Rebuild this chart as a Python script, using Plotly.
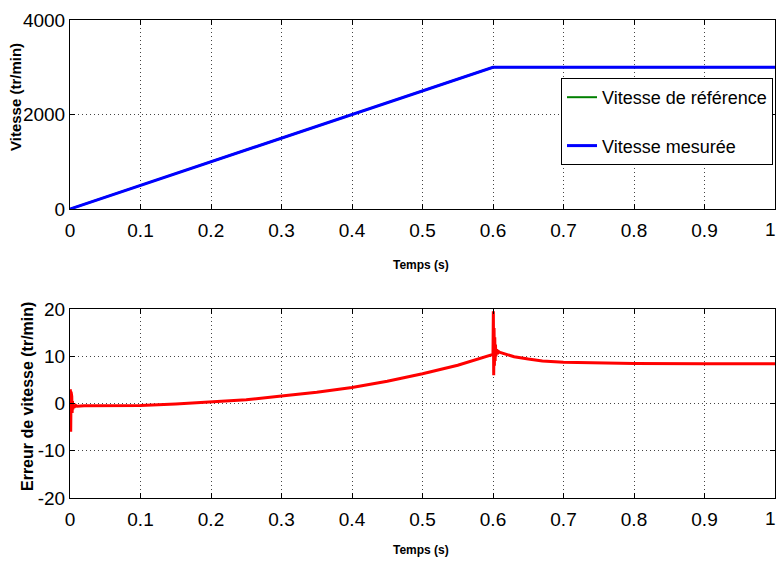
import plotly.graph_objects as go

# --- data ---
t_ref = [0, 0.6, 1.0]
v_ref = [0, 3000, 3000]
t_mes = [0, 0.6, 1.0]
v_mes = [0, 3000, 3000]

t_err = [0, 0.0005, 0.001, 0.0015, 0.002, 0.0025, 0.003, 0.0035, 0.004, 0.005,
         0.006, 0.008, 0.01, 0.02, 0.05, 0.1, 0.15, 0.2, 0.25, 0.3, 0.35, 0.4,
         0.45, 0.5, 0.55, 0.6, 0.6005, 0.601, 0.6015, 0.602, 0.6025, 0.603,
         0.6035, 0.604, 0.605, 0.606, 0.608, 0.61, 0.62, 0.63, 0.65, 0.67,
         0.7, 0.75, 0.8, 0.9, 1.0]
e_err = [0, 3, -6, 2.5, -3, 1.5, -2, 0.5, -1.2, -0.2,
         -0.8, -0.4, -0.6, -0.5, -0.5, -0.4, -0.1, 0.3, 0.8, 1.6, 2.4, 3.4,
         4.7, 6.3, 8.1, 10.4, 19.5, 6, 16, 8, 14, 9,
         12.5, 10, 11.5, 10.5, 11.0, 10.8, 10.3, 9.9, 9.4, 9.0,
         8.75, 8.55, 8.45, 8.4, 8.4]

x_ticks = [0, 0.1, 0.2, 0.3, 0.4, 0.5, 0.6, 0.7, 0.8, 0.9, 1]
# last label ("1") is drawn separately so that it is not clipped at the page edge
x_labels = ["0", "0.1", "0.2", "0.3", "0.4", "0.5", "0.6", "0.7", "0.8", "0.9", ""]
x_last_label = "1"
y1_ticks = [0, 2000, 4000]
y1_labels = ["0", "2000", "4000"]
y2_ticks = [-20, -10, 0, 10, 20]
y2_labels = ["-20", "-10", "0", "10", "20"]

W, H = 777, 567


def sx(px):
    return px / W


def sy(py):
    return (H - py) / H


TICKFONT = "Liberation Sans, Arial, sans-serif"
BOLDFONT = "Arial, Liberation Sans, sans-serif"
TICKSIZE = 19

fig = go.Figure()
fig.add_trace(go.Scatter(x=t_ref, y=v_ref, mode="lines", name="Vitesse de référence",
                         legendgroup="a",
                         line=dict(color="#008000", width=2), xaxis="x", yaxis="y"))
fig.add_trace(go.Scatter(x=t_mes, y=v_mes, mode="lines", name="Vitesse mesurée",
                         legendgroup="b",
                         line=dict(color="#0000ff", width=3), xaxis="x", yaxis="y"))
fig.add_trace(go.Scatter(x=t_err, y=e_err, mode="lines", showlegend=False,
                         line=dict(color="#ff0000", width=3), xaxis="x2", yaxis="y2"))

axis_common = dict(showline=True, linecolor="black", linewidth=1, mirror="ticks",
                   ticks="inside", ticklen=5, tickcolor="black", automargin=False,
                   showgrid=True, gridcolor="#444444", griddash="1px,3px", gridwidth=1,
                   zeroline=False, ticklabeloverflow="allow",
                   tickfont=dict(family=TICKFONT, size=TICKSIZE, color="black"))

x0, x1 = sx(70), sx(775)
fig.update_layout(
    width=W, height=H,
    margin=dict(l=0, r=0, t=0, b=0),
    paper_bgcolor="white", plot_bgcolor="white",
    xaxis=dict(domain=[x0, x1], range=[0, 1], tickvals=x_ticks, ticktext=x_labels,
               anchor="y", ticklabelstandoff=4, **axis_common),
    yaxis=dict(domain=[sy(209), sy(20)], range=[0, 4000], tickvals=y1_ticks,
               ticktext=y1_labels, anchor="x", ticklabelstandoff=0, **axis_common),
    xaxis2=dict(domain=[x0, x1], range=[0, 1], tickvals=x_ticks, ticktext=x_labels,
                anchor="y2", ticklabelstandoff=4, **axis_common),
    yaxis2=dict(domain=[sy(498), sy(309)], range=[-20, 20], tickvals=y2_ticks,
                ticktext=y2_labels, anchor="x2", ticklabelstandoff=0, **axis_common),
    legend=dict(x=sx(773), y=sy(78), xanchor="right", yanchor="top",
                bordercolor="black", borderwidth=1, bgcolor="white",
                font=dict(family=TICKFONT, size=18, color="black"),
                traceorder="grouped", tracegroupgap=22),
    showlegend=True,
)

# last x tick label, anchored on the x value through the axis
for xr, ypx in (("x", 229), ("x2", 518)):
    fig.add_annotation(text=x_last_label, x=x_ticks[-1], xref=xr, y=sy(ypx), yref="paper",
                       xanchor="right", yanchor="middle", xshift=3, showarrow=False,
                       font=dict(family=TICKFONT, size=TICKSIZE, color="black"))

fig.add_annotation(text="<b>Temps (s)</b>", x=sx(421), y=sy(265),
                   xref="paper", yref="paper", xanchor="center", yanchor="middle",
                   showarrow=False, font=dict(family=BOLDFONT, size=12, color="black"))
fig.add_annotation(text="<b>Temps (s)</b>", x=sx(421), y=sy(550),
                   xref="paper", yref="paper", xanchor="center", yanchor="middle",
                   showarrow=False, font=dict(family=BOLDFONT, size=12, color="black"))
fig.add_annotation(text="<b>Vitesse (tr/min)</b>", x=sx(15), y=sy(97),
                   xref="paper", yref="paper", xanchor="center", yanchor="middle",
                   showarrow=False, textangle=-90,
                   font=dict(family=BOLDFONT, size=15, color="black"))
fig.add_annotation(text="<b>Erreur de vitesse (tr/min)</b>", x=sx(27), y=sy(397),
                   xref="paper", yref="paper", xanchor="center", yanchor="middle",
                   showarrow=False, textangle=-90,
                   font=dict(family=BOLDFONT, size=16, color="black"))

fig.write_html("out.html", config={"displayModeBar": False},
               post_script="document.body.style.margin='0';document.body.style.overflow='hidden';")
